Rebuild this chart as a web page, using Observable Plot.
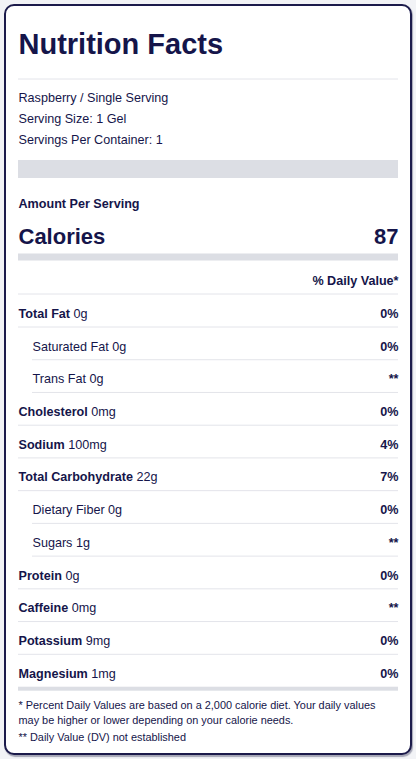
<!DOCTYPE html>
<html><head><meta charset="utf-8">
<script src="https://cdn.jsdelivr.net/npm/d3@7"></script>
<script src="https://cdn.jsdelivr.net/npm/@observablehq/plot@0.6"></script>
<style>
html,body{margin:0;padding:0;background:#f2f3f6;width:416px;height:759px;overflow:hidden;}
#card{position:absolute;left:4px;top:4px;width:404px;height:747px;border:2px solid #1c1b4b;border-radius:10px;background:#fff;box-shadow:1px 1.5px 1px rgba(20,20,60,.35);}
#chart{position:absolute;left:0;top:0;}
</style></head><body>
<div id="card"></div><div id="chart"></div>
<script>
// ---- data ----
const title = "Nutrition Facts";
const servingInfo = ["Raspberry / Single Serving", "Serving Size: 1 Gel", "Servings Per Container: 1"];
const amountLabel = "Amount Per Serving";
const caloriesLabel = "Calories";
const calories = 87;
const dvHeader = "% Daily Value*";
const nutrients = ["Total Fat", "Saturated Fat", "Trans Fat", "Cholesterol", "Sodium", "Total Carbohydrate", "Dietary Fiber", "Sugars", "Protein", "Caffeine", "Potassium", "Magnesium"];
const amounts = ["0g", "0g", "0g", "0mg", "100mg", "22g", "0g", "1g", "0g", "0mg", "9mg", "1mg"];
const dailyValues = ["0%", "0%", "**", "0%", "4%", "7%", "0%", "**", "0%", "**", "0%", "0%"];
const subNutrients = ["Saturated Fat", "Trans Fat", "Dietary Fiber", "Sugars"];
const footnotes = [
  "* Percent Daily Values are based on a 2,000 calorie diet. Your daily values",
  "may be higher or lower depending on your calorie needs.",
  "** Daily Value (DV) not established"
];

// ---- layout & style ----
const FONT = "'Liberation Sans', Arial, Helvetica, sans-serif";
const INK = "#15154a";
const RULE = "#e3e4ea";
const BAR = "#dcdee4";
const INDENT = 14;
const FS = 12.6;
const L = {
  titleY: 44.7, topRule: 78.5,
  infoY0: 97.5, infoStep: 21.1,
  bar1: [160, 178],
  amountY: 203, calY: 236,
  bar2: [253.5, 260.5],
  dvY: 280, dvRule: 293.5,
  rowY0: 313.3, rowStep: 32.73, rowRule: 13.2,
  bar3: [686.7, 690.7],
  footY: [704.8, 719.8, 737.2]
};
const ctx = document.createElement("canvas").getContext("2d");
function textWidth(s, weight, size) { ctx.font = `${weight} ${size}px ${FONT}`; return ctx.measureText(s).width; }

const rows = nutrients.map((name, i) => {
  const sub = subNutrients.includes(name);
  const x0 = sub ? INDENT : 0;
  const weight = sub ? "normal" : "bold";
  return {
    name, amount: amounts[i], dv: dailyValues[i], sub, x0, weight,
    ax: x0 + textWidth(name + " ", weight, FS),
    y: L.rowY0 + i * L.rowStep
  };
});
const ruleRows = rows.slice(0, -1);
const info = servingInfo.map((t, i) => ({t, y: L.infoY0 + i * L.infoStep}));
const foot = footnotes.map((t, i) => ({t, y: L.footY[i]}));
const bars = [L.bar1, L.bar2, L.bar3].map(([y1, y2]) => ({y1, y2}));
const thin = [L.topRule, L.dvRule];

const chart = Plot.plot({
  width: 416, height: 759,
  marginLeft: 18, marginRight: 18, marginTop: 0, marginBottom: 0,
  x: {domain: [0, 380], axis: null},
  y: {domain: [0, 759], range: [0, 759], axis: null},
  style: {background: "transparent", fontFamily: FONT, color: INK, overflow: "visible"},
  marks: [
    Plot.ruleY(thin, {y: d => d, x1: 0, x2: 380, stroke: RULE, strokeWidth: 1}),
    Plot.rect(bars, {x1: 0, x2: 380, y1: "y1", y2: "y2", fill: BAR}),
    Plot.ruleY(ruleRows, {y: d => d.y + L.rowRule, x1: "x0", x2: 380, stroke: RULE, strokeWidth: 1}),
    Plot.text([title], {x: 0, y: L.titleY, text: d => d, textAnchor: "start", fontSize: 29, fontWeight: "bold", fill: INK}),
    Plot.text(info, {x: 0, y: "y", text: "t", textAnchor: "start", fontSize: FS, fill: INK}),
    Plot.text([amountLabel], {x: 0, y: L.amountY, text: d => d, textAnchor: "start", fontSize: FS, fontWeight: "bold", fill: INK}),
    Plot.text([caloriesLabel], {x: 0, y: L.calY, text: d => d, textAnchor: "start", fontSize: 22, fontWeight: "bold", fill: INK}),
    Plot.text([calories], {x: 380, y: L.calY, text: d => String(d), textAnchor: "end", fontSize: 22, fontWeight: "bold", fill: INK}),
    Plot.text([dvHeader], {x: 380, y: L.dvY, text: d => d, textAnchor: "end", fontSize: FS, fontWeight: "bold", fill: INK}),
    Plot.text(rows.filter(d => !d.sub), {x: "x0", y: "y", text: "name", textAnchor: "start", fontSize: FS, fontWeight: "bold", fill: INK}),
    Plot.text(rows.filter(d => d.sub), {x: "x0", y: "y", text: "name", textAnchor: "start", fontSize: FS, fill: INK}),
    Plot.text(rows, {x: "ax", y: "y", text: "amount", textAnchor: "start", fontSize: FS, fill: INK}),
    Plot.text(rows, {x: 380, y: "y", text: "dv", textAnchor: "end", fontSize: FS, fontWeight: "bold", fill: INK}),
    Plot.text(foot, {x: 0, y: "y", text: "t", textAnchor: "start", fontSize: 10.9, fill: INK})
  ]
});
document.getElementById("chart").appendChild(chart);
</script>
</body></html>
